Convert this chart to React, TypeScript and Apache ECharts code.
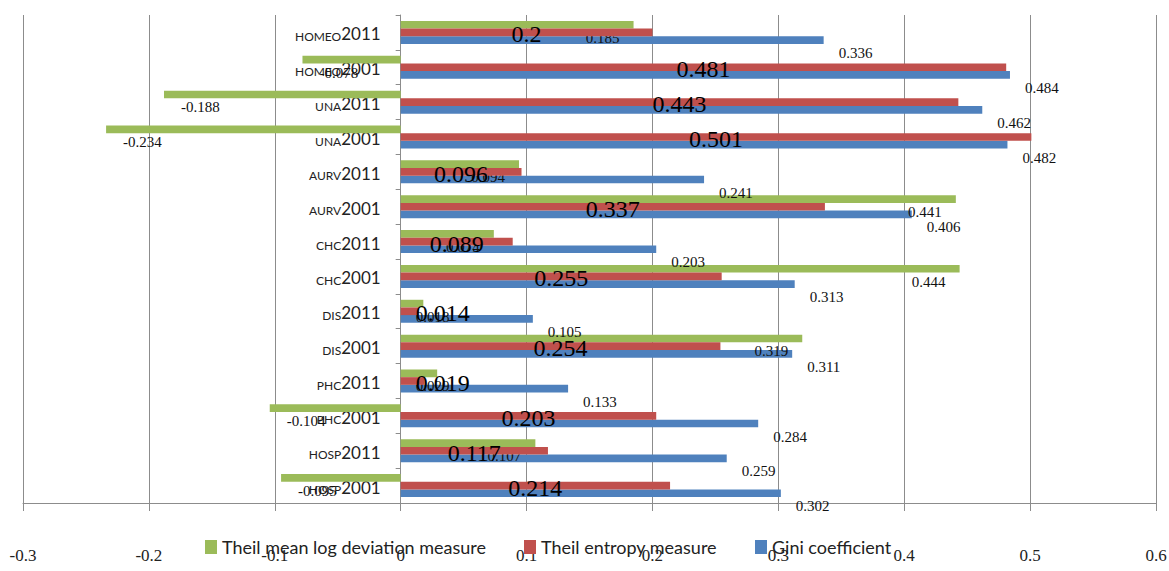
import React, { useEffect, useRef } from "react";
import * as echarts from "echarts";

const categories = [
  "HOMEO2011", "HOMEO2001", "UNA2011", "UNA2001", "AURV2011", "AURV2001", "CHC2011",
  "CHC2001", "DIS2011", "DIS2001", "PHC2011", "PHC2001", "HOSP2011", "HOSP2001",
];
const mldValues = [0.185, -0.078, -0.188, -0.234, 0.094, 0.441, 0.074, 0.444, 0.018, 0.319, 0.029, -0.104, 0.107, -0.095];
const theilValues = [0.2, 0.481, 0.443, 0.501, 0.096, 0.337, 0.089, 0.255, 0.014, 0.254, 0.019, 0.203, 0.117, 0.214];
const giniValues = [0.336, 0.484, 0.462, 0.482, 0.241, 0.406, 0.203, 0.313, 0.105, 0.311, 0.133, 0.284, 0.259, 0.302];
const seriesNames = ["Theil mean log deviation measure", "Theil entropy measure", "Gini coefficient"];
const xMin = -0.3;
const xMax = 0.6;

const GREEN = "#9BBB59";
const RED = "#C0504D";
const BLUE = "#4F81BD";
const GRID = "#8c8c8c";
const SERIF = "'Liberation Serif', 'Times New Roman', serif";
const SANS = "Lato, 'Noto Sans', sans-serif";

const W = 1169;
const H = 571;
const GRID_LEFT = 23;
const GRID_RIGHT = 13;

export default function App() {
  const ref = useRef<HTMLDivElement>(null);
  useEffect(() => {
    if (!ref.current) return;
    const chart = echarts.init(ref.current, undefined, { renderer: "svg" });
    const smallLabel = { color: "#111", fontFamily: SERIF, fontSize: 15 };
    const plotW = W - GRID_LEFT - GRID_RIGHT;
    const zeroShift = ((0 - xMin) / (xMax - xMin)) * plotW;
    const option = {
      animation: false,
      backgroundColor: "#ffffff",
      grid: {
        left: GRID_LEFT,
        right: GRID_RIGHT,
        top: 15,
        bottom: 68,
        containLabel: false,
        outerBoundsMode: "none",
      },
      legend: {
        left: 200,
        top: 533,
        icon: "rect",
        itemWidth: 12,
        itemHeight: 14,
        itemGap: 38,
        itemStyle: { borderWidth: 0 },
        textStyle: { fontFamily: SANS, fontSize: 18, color: "#222" },
        data: seriesNames,
      },
      xAxis: {
        type: "value",
        min: xMin,
        max: xMax,
        interval: 0.1,
        axisLine: { show: true, onZero: false, lineStyle: { color: GRID, width: 1 } },
        axisTick: { show: true, length: 8, lineStyle: { color: GRID } },
        splitLine: { show: true, lineStyle: { color: GRID, width: 1 } },
        axisLabel: {
          margin: 44,
          fontFamily: SERIF,
          fontSize: 17,
          color: "#222",
          formatter: (v: number) => String(Math.round(v * 10) / 10),
        },
      },
      yAxis: {
        type: "category",
        inverse: true,
        data: categories,
        offset: -zeroShift,
        axisLine: { show: true, onZero: false, lineStyle: { color: GRID, width: 1 } },
        axisTick: { show: true, length: 5, lineStyle: { color: GRID } },
        splitLine: { show: false },
        axisLabel: {
          margin: 20,
          formatter: (v: string) => {
            const m = v.match(/^([A-Z]+)(\d+)$/);
            return m ? `{a|${m[1]}}{b|${m[2]}}` : v;
          },
          rich: {
            a: { fontFamily: SANS, fontSize: 12, color: "#222", verticalAlign: "bottom", lineHeight: 20 },
            b: { fontFamily: SANS, fontSize: 17, color: "#222", verticalAlign: "bottom", lineHeight: 20 },
          },
        },
      },
      series: [
        {
          name: seriesNames[0],
          type: "bar",
          barGap: "0%",
          barCategoryGap: "34%",
          itemStyle: { color: GREEN },
          data: mldValues.map((v) => ({
            value: v,
            label: v < 0
              ? { position: "insideLeft", offset: [12, 13] }
              : v < 0.04
                ? { position: "insideLeft", offset: [10, 13] }
                : { position: "insideRight", offset: [-9, 13] },
          })),
          label: { show: true, ...smallLabel },
        },
        {
          name: seriesNames[1],
          type: "bar",
          barGap: "0%",
          barCategoryGap: "34%",
          itemStyle: { color: RED },
          data: theilValues.map((v) => ({
            value: v,
            label: v < 0.04 ? { position: "insideLeft", offset: [10, 2] } : { position: "inside", offset: [0, 2] },
          })),
          z: 3,
          label: {
            show: true,
            color: "#000",
            fontFamily: SERIF,
            fontSize: 24,
          },
        },
        {
          name: seriesNames[2],
          type: "bar",
          barGap: "0%",
          barCategoryGap: "34%",
          itemStyle: { color: BLUE },
          data: giniValues,
          label: { show: true, position: "right", distance: 5, offset: [10, 13], ...smallLabel },
        },
      ],
    };
    chart.setOption(option as any);
    return () => chart.dispose();
  }, []);
  return (
    <div
      ref={ref}
      style={{ position: "fixed", left: 0, top: 0, width: W, height: H, background: "#fff" }}
    />
  );
}
